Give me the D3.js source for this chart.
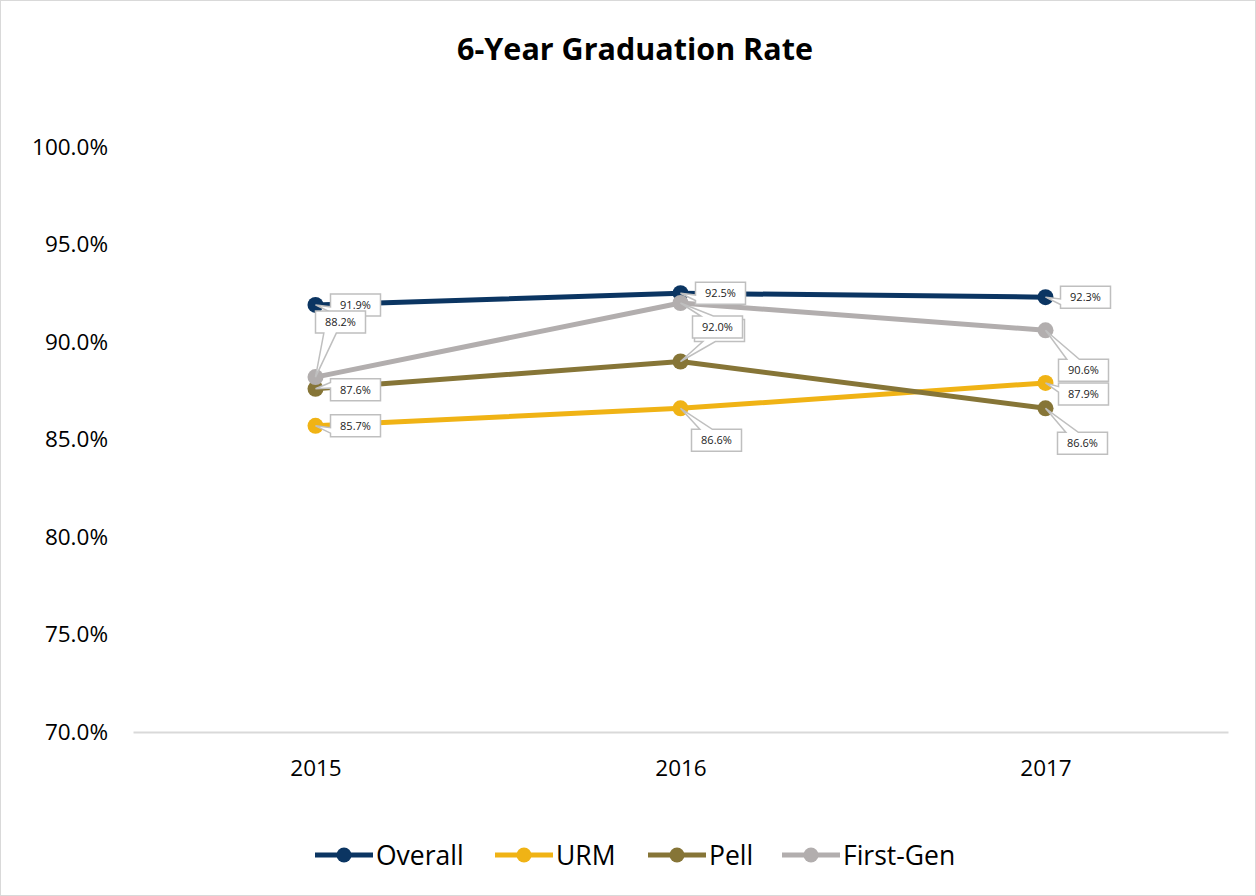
<!DOCTYPE html>
<html>
<head>
<meta charset="utf-8">
<script src="https://cdn.jsdelivr.net/npm/d3@7"></script>
<style>
  html, body { margin: 0; padding: 0; background: #fff; }
  svg { display: block; font-family: "Open Sans", "Noto Sans", sans-serif; }
</style>
</head>
<body>
<svg id="chart" width="1256" height="896"></svg>
<script>
// Cohort years and graduation rates (%)
const years = ["2015", "2016", "2017"];
const seriesNames = ["Overall", "URM", "Pell", "First-Gen"];
const overall  = [91.9, 92.5, 92.3];
const urm      = [85.7, 86.6, 87.9];
const pell     = [87.6, 89.0, 86.6];
const firstGen = [88.2, 92.0, 90.6];
const yTicks = [70, 75, 80, 85, 90, 95, 100];

const colors = ["#0b3562", "#f0b315", "#867537", "#b2aeae"];

// Callout placement for each data label, offset of the box centre from its point
const labelOffsets = [
  [[40, 0], [40, 0], [40, 0]],
  [[40, 0], [36, 32], [38, 11]],
  [[40, 1], [39, -31], [37, 35]],
  [[25, -55], [37, 24], [38, 40]]
];
// the 2016 Pell callout sits underneath the First-Gen one, so its text is covered
const labelTextShown = [
  [true, true, true],
  [true, true, true],
  [true, false, true],
  [true, true, true]
];

const seriesValues = [overall, urm, pell, firstGen];
const series = seriesNames.map((name, i) => ({
  name, color: colors[i],
  points: years.map((yr, j) => ({
    year: yr, value: seriesValues[i][j], off: labelOffsets[i][j], shown: labelTextShown[i][j]
  }))
}));

const W = 1256, H = 896;
const svg = d3.select("#chart");

// outer frame
svg.append("rect").attr("x", 0.5).attr("y", 0.5).attr("width", W - 1).attr("height", H - 1)
  .attr("fill", "#fff").attr("stroke", "#d9d9d9").attr("stroke-width", 1);

// title
svg.append("text").attr("x", 635).attr("y", 60).attr("text-anchor", "middle")
  .attr("font-size", 30.5).attr("font-weight", 700).attr("fill", "#000")
  .text("6-Year Graduation Rate");

const x = d3.scalePoint().domain(years).range([133, 1228]).padding(0.5);
const y = d3.scaleLinear().domain([70, 100]).range([732, 147]);

// y axis (labels only)
const yAxis = svg.append("g").attr("transform", "translate(133,0)")
  .call(d3.axisLeft(y).tickValues(yTicks).tickSize(0).tickPadding(25)
    .tickFormat(d => d.toFixed(1) + "%"));
yAxis.select(".domain").remove();
yAxis.selectAll("text").attr("font-size", 22.5).attr("fill", "#000")
  .attr("font-family", "'Open Sans', sans-serif");

// x axis
const xAxis = svg.append("g").attr("transform", "translate(0,732)")
  .call(d3.axisBottom(x).tickSize(0).tickPadding(28));
xAxis.select(".domain").attr("stroke", "#d9d9d9").attr("stroke-width", 2);
xAxis.selectAll("text").attr("font-size", 22.5).attr("fill", "#000")
  .attr("font-family", "'Open Sans', sans-serif");

// lines and markers
const line = d3.line().x(d => x(d.year)).y(d => y(d.value));
const gSeries = svg.append("g").selectAll("g").data(series).join("g");
gSeries.append("path").attr("d", d => line(d.points))
  .attr("fill", "none").attr("stroke", d => d.color).attr("stroke-width", 5)
  .attr("stroke-linejoin", "round");
gSeries.selectAll("circle").data(d => d.points.map(p => ({ ...p, color: d.color })))
  .join("circle").attr("cx", d => x(d.year)).attr("cy", d => y(d.value))
  .attr("r", 8).attr("fill", d => d.color);

// callout path: rectangle with a wedge pointing at (px, py)
function calloutPath(cx, cy, w, h, px, py) {
  const x0 = cx - w / 2, x1 = cx + w / 2, y0 = cy - h / 2, y1 = cy + h / 2;
  const dx = px - cx, dy = py - cy;
  const pts = [];
  if (Math.abs(dx) / w > Math.abs(dy) / h) {
    const a = dy < 0 ? [2 / 12, 5 / 12] : [7 / 12, 10 / 12];
    const ya = y0 + h * a[0], yb = y0 + h * a[1];
    if (dx < 0) {
      pts.push([x0, y0], [x1, y0], [x1, y1], [x0, y1], [x0, yb], [px, py], [x0, ya]);
    } else {
      pts.push([x0, y0], [x1, y0], [x1, ya], [px, py], [x1, yb], [x1, y1], [x0, y1]);
    }
  } else {
    const a = dx < 0 ? [2 / 12, 5 / 12] : [7 / 12, 10 / 12];
    const xa = x0 + w * a[0], xb = x0 + w * a[1];
    if (dy < 0) {
      pts.push([x0, y0], [xa, y0], [px, py], [xb, y0], [x1, y0], [x1, y1], [x0, y1]);
    } else {
      pts.push([x0, y0], [x1, y0], [x1, y1], [xb, y1], [px, py], [xa, y1], [x0, y1]);
    }
  }
  return "M" + pts.map(p => p.join(",")).join("L") + "Z";
}

// data labels
const labels = svg.append("g");
series.forEach(s => {
  s.points.forEach(p => {
    const px = x(p.year), py = y(p.value);
    const cx = px + p.off[0], cy = py + p.off[1];
    const g = labels.append("g");
    g.append("path").attr("d", calloutPath(cx, cy, 50, 22, px, py))
      .attr("fill", "#fff").attr("stroke", "#bfbfbf").attr("stroke-width", 1.5);
    if (p.shown) {
      g.append("text").attr("x", cx).attr("y", cy + 4).attr("text-anchor", "middle")
        .attr("font-size", 11).attr("fill", "#222").text(p.value.toFixed(1) + "%");
    }
  });
});

// legend
const legendX = [315, 495, 648, 782];
const legend = svg.append("g").selectAll("g").data(series).join("g")
  .attr("transform", (d, i) => `translate(${legendX[i]},855)`);
legend.append("line").attr("x1", 0).attr("x2", 58).attr("y1", 0).attr("y2", 0)
  .attr("stroke", d => d.color).attr("stroke-width", 5);
legend.append("circle").attr("cx", 29).attr("cy", 0).attr("r", 7.5).attr("fill", d => d.color);
legend.append("text").attr("x", 61).attr("y", 9.5).attr("font-size", 26.5).attr("fill", "#000")
  .text(d => d.name);
</script>
</body>
</html>
